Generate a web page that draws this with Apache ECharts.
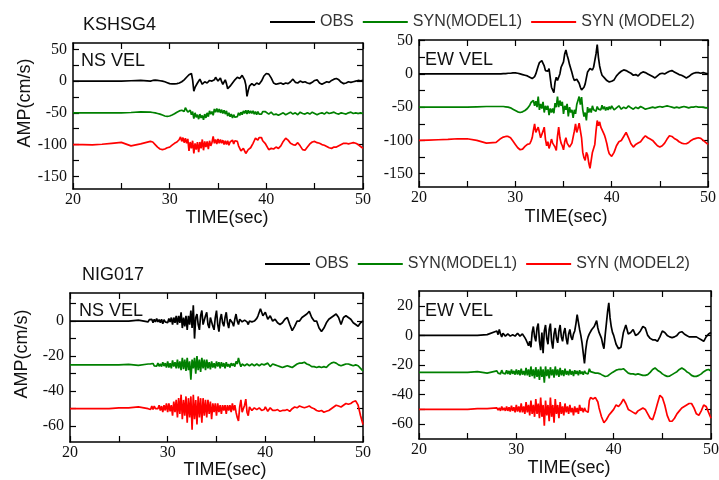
<!DOCTYPE html>
<html>
<head>
<meta charset="utf-8">
<script src="https://cdn.jsdelivr.net/npm/echarts@6/dist/echarts.min.js"></script>
<style>
  html, body { margin: 0; padding: 0; background: #fff; }
  #chart { width: 719px; height: 480px; }
</style>
</head>
<body>
<div id="chart"></div>
<script>
// sample times: 1 s in the quiet part, 0.125 s through the strong shaking, 0.25 s in the coda
const TIMES = [];
for (let t = 20; t < 28; t++) TIMES.push(t);
for (let i = 0; i < 96; i++) TIMES.push(28 + i * 0.125);
for (let i = 0; i <= 40; i++) TIMES.push(40 + i * 0.25);

const NAMES = ['OBS', 'SYN(MODEL1)', 'SYN (MODEL2)'];
const COLORS = ['#000000', '#008000', '#ff0000'];
const STATIONS = ['KSHSG4', 'NIG017'];
const COMPONENTS = ['NS VEL', 'EW VEL'];

// trace offsets (cm/s) used to stack the three traces in each panel
const OFFSETS_KSHSG4 = [0, -50, -100];
const OFFSETS_NIG017 = [0, -25, -50];

// KSHSG4 NS velocity
const KSHSG4_NS_OBS = [
  0, 0, 0, 0, 0, 0, 0.5, 1,
  // 28 - 40 s
  0, 0.5, 1, 1.5, 1.5, 1, 1, 0.5,
  0.5, 0, 0, -0.5, -1, -2, -2.5, -3,
  -4, -4, -4.5, -5, -4.5, -4, -4, -3.5,
  -3, -2, -1, 0, 2, 4, 6, 8,
  10, 13, 12, 2, -16, -10, -8, -3,
  -2, 3, 0, -5, -6, -1, 2, -3,
  -4, 1, 4, 0, -3, 2, 6, 3,
  0, 3, 5, -1, -5, -2, 2, -4,
  -12, -9, -8, -5, -3, 0, 2, 4,
  6, 3, 4, 7, 9, 6, 2, -6,
  -24, -15, -8, -6, -4, -5, -7, -4,
  -3, -4, -5, -2, 0, 4, 8, 10,
  // 40 - 50 s
  12, 11, 5, -3, -5, -4, -3, -5,
  -3, -4, -1, 3, -2, -3, 0, -2,
  -1, -3, -4, -2, 1, 2, -3, -5,
  -3, -1, -2, 1, 3, 4, 2, -2,
  -4, -3, -1, -2, -1, 0, 1, 0.5,
  1
];
const KSHSG4_NS_M1 = [
  0, 0, 0, 0, 0, 0, 0.5, 1.5,
  1, 1, 0.5, 0, 0, -0.5, -1, -1.5,
  -2, -3, -3.5, -4.5, -5, -5.5, -5.5, -5.5,
  -5, -4.5, -3.5, -2.5, -1.5, 0, 1, 2,
  3, 6, 4, 7, 2, 8, 5, 1,
  -2, 4, -3, 2, -9, 0, -7, -3,
  -10, -2, -8, -4, -11, -2, -8, 0,
  -6, 3, -2, 2, -4, 6, 1, 7,
  1, 6, 0, 5, -1, 4, -2, 3,
  -5, 0, -6, -2, -8, -3, -7, -4,
  -6, 0, -4, 1, -3, 3, -1, 4,
  -2, 4, -1, 3, -1, 3, -2, 2,
  -3, 2, -2, 1, -2, 2, -1, 2,
  0, -2, 1, -3, -2, -4, -2, 0,
  -3, -1, 1, -2, 0, -3, 1, -1,
  -2, 0, -2, 1, -1, -3, -1, 0,
  -2, 1, -1, 0, 1, -1, -2, 0,
  -1, -2, 0, 1, -1, 0, -1, 0,
  -1
];
const KSHSG4_NS_M2 = [
  0, 0, -0.5, 0.5, 2, 3.5, -2, 1,
  5, 5, 4, 2, 0, -2, -4, -6,
  -7, -8, -8, -8, -7, -6, -5, -4.5,
  -4, -2.5, -1, 0.5, 2, 3, 4, 6,
  8, 12, 5, 11, 3, 10, 2, 9,
  -10, 4, -6, 6, -14, 2, -8, 4,
  -12, 4, -6, 8, -9, 5, -4, 5,
  -7, 6, -2, 3, 13, 2, 8, 1,
  9, 2, 8, 2, 7, 0, 6, 0,
  6, -1, 4, 2, 7, 1, 6, 3,
  5, -2, -5, -10, -12, -6, -9, -14,
  -16, -8, -10, -5, -3, 2, 6, 10,
  13, 7, 11, 9, 11, 6, 5, 2,
  0, -8, -6, -7, -4, -6, -2, 5,
  10, 7, 2, 0, -1, 3, -2, -8,
  -9, -4, 1, 4, 5, 3, 2, 0,
  -1, -3, -5, -6, -4, -4, -2, 0,
  2, 2, 1, 2, 3, 2, 0, -3,
  -6
];

// KSHSG4 EW velocity
const KSHSG4_EW_OBS = [
  0, 0, 0, 0, 0, 0, 0, 0,
  0, 0, 0, 0, 0, 0.5, 0.5, 0.5,
  0.5, 1, 1, 1, 1, 1.5, 1.5, 1.5,
  1.5, 1.5, 1, 0.5, 0, -0.5, -1, -1.5,
  -2, -2.5, -3, -4, -5, -6, -7, -6,
  -4, 0, 6, 12, 17, 19, 20, 16,
  12, 5, 2, 4, 8, -6, -20, -24,
  -28, -12, -5, -10, -12, 0, 10, 14,
  18, 30, 36, 28, 22, 14, 8, 2,
  -5, -10, -12, -8, -8, -14, -20, -24,
  -23, -20, -15, -6, 3, 6, 8, 7,
  6, 10, 12, 30, 44, 25, 12, 4,
  -2, -4, -6, -8, -10, -11, -12, -12,
  -11, -9, -3, 1, 4, 6, 5, 3,
  1, -2, -1, -3, 1, 3, 2, 0,
  -2, -4, -6, -3, 0, 1, 0, 2,
  4, 5, 3, 1, -1, -2, -4, -6,
  -4, -1, 1, 2, 2, 1, 2, 1,
  0
];
const KSHSG4_EW_M1 = [
  0, 0, 0, 0, 0, 0, 0.5, 1,
  1, 1, 1, 1, 1, 1, 1, 1,
  0.5, 0.5, 0, -0.5, -1, -2, -3, -4,
  -5, -6, -7, -7.5, -8, -7.5, -7, -6,
  -5, -3, -2, 1, 3, 7, 4, 10,
  2, 9, 0, 16, -4, 5, -2, 8,
  -8, 2, -4, 2, -12, -2, -8, -2,
  -9, 6, 0, 16, 0, 10, 2, 8,
  -10, 2, -4, 5, -14, 0, -8, -4,
  -16, -4, -10, 4, 2, 16, 4, 15,
  -4, -14, -8, -20, 0, -8, -2, -8,
  2, -4, -1, -6, 1, -3, 0, -4,
  3, -3, 1, -5, 0, -4, 1, -3,
  2, -4, -1, 2, -3, 0, -2, 2,
  -1, -3, 0, -2, 1, -1, -3, -2,
  -1, 0, -1, 0, 1, 0, 1, 2,
  1, 0, -1, 0, -1, 0, 1, 0,
  -1, 0, 0, 1, 0, 0, 0, -1,
  -1
];
const KSHSG4_EW_M2 = [
  0, 0.5, 1, 1.5, 2.5, 2.5, 0, -4,
  -3, -1.5, 0, 1.5, 3, 4, 5, 5.5,
  6, 6, 6, 5, 4, 1.5, -1, -3.5,
  -6, -9, -11, -13, -14, -14, -13, -11,
  -9, -7, -6, -6, -5, -1, 4, 15,
  25, 12, 10, 20, 18, 4, 2, 14,
  20, 2, -8, -2, -12, -6, 2, -4,
  -6, -10, -15, 6, 20, 4, -4, -8,
  -14, -2, 4, -4, -5, -10, -10, -4,
  -2, 14, 25, 12, 18, 26, 24, 4,
  -18, -26, -30, -18, -22, -34, -42, -30,
  -18, -12, -6, 14, 30, 22, 28, 20,
  18, 12, 8, 2, -5, -14, -20, -23,
  -24, -18, -8, -2, 0, 6, 12, 4,
  -5, -10, -6, -4, -2, 3, 7, 4,
  2, 0, -4, -8, -10, -8, -4, 2,
  7, 6, 3, 1, -2, -4, -5, -5,
  -3, 0, 2, 3, 4, 3, 0, -3,
  -6
];

// NIG017 NS velocity
const NIG017_NS_OBS = [
  0, 0, 0, 0, 0, 0, 0, 0.5,
  -0.5, 0.8, -0.3, 1, -1, 1, -0.5, 1.5,
  -0.5, 0.8, -1, 1, -1.5, 0.8, -0.5, 0.5,
  -1, 1.5, -0.5, 2, -2, 2, -1, 3,
  -2, 3, -1, 5, -4, 2, -3, 3,
  -5, 3, -2, 6, -4, 9, -10, 2,
  4, -2, -5, 3, 6, -2, -3, 3,
  5, -2, -4, 2, 3, -3, -5, 2,
  6, -2, -6, 1, 4, -1, -3, 2,
  5, -1, -4, 1, 2, -1, -3, 1,
  4, 0, -2, 1, 2, -0.5, -1, 0.5,
  1, -0.5, -2, 0, 1, -0.5, -1, 0,
  0, 1.5, 3, 5, 7, 5, 3, 4,
  5, 1, 3, 0, 1, -1, -2, -1,
  1, 2, -2, -5.5, -3, 0, 0, 2,
  3, 4, 5.5, 2, 0, 0, -4, -6,
  -4, -1, 1, 2, 3, 4, 2, -2,
  2, 3, 2, 1, -1, -2, -3, -1,
  0
];
const NIG017_NS_M1 = [
  0, 0, 0, 0, 0, 0, 0.3, -0.3,
  0.5, -0.3, 0.6, -0.5, 0.8, -0.6, 0.4, -0.8,
  1, -0.8, 0.6, -1, 1.5, -0.7, 1, -1.5,
  2, -1.5, 1, -2, 2.5, -1, 1.5, -2,
  3, -2, 2, -3, 4, -2.5, 3, -3.5,
  4, -3, 2, -8.5, 3, -2, 4, -5,
  5, -3, 3, -4, 4, -2, 3, -3,
  3, -2, 1.5, -2.5, 2, -1.5, 1, -2,
  2, -1, 1.5, -2, 1.5, -1, 1, -2,
  1.5, -1, 0.5, -1.5, 1, -0.5, 0.8, -1,
  2, 0.5, 4, 1, -1, 0.5, 1, -0.5,
  -1.5, 0.5, 1, -0.5, -1, 0.5, 1.5, -0.5,
  -1, 0.5, 0.5, -0.5, -1, 0.5, 1, 0,
  -0.5, 1, -1, 0.5, 0, -0.5, -1, -1.5,
  -1, -0.5, -1, -1.5, -0.5, 0.5, 1, 1,
  1.5, 0.5, 0, -1, -1, -1.5, -1, -1.5,
  -1, -1.5, 0, 1, 1.5, 1, 0, -0.5,
  0, 0.5, 0.5, 0, -0.5, 0, -0.5, -2,
  -3.5
];
const NIG017_NS_M2 = [
  0, 0, 0, 0, 0, 0.5, 0.5, 1,
  0, 1, -0.5, 1.5, -0.5, 1.5, 0, 1,
  0, 2, -1, 1.5, -2, 2, -1, 3,
  -2, 3, -1.5, 2, -4, 4, -2, 5,
  -5, 6, -3, 8, -6, 5, -4, 7,
  -8, 6, -5, 7, -12, 8, -6, 5,
  -9, 7, -5, 6, -8, 6, -4, 5,
  -5, 5, -3, 4, -6, 3, -2, 3,
  -4, 3, -2, 2, -3, 2, -1, 2,
  -3, 2, -1, 2, -2, 3, -1, 2,
  -2, -5, -7, 1, 5, -2, -3, 2,
  5.5, -2, -4, 1, 2, -1, -2, 0.5,
  1.5, -0.5, -1, 0.5, 1, -1, -2, -0.5,
  1, -1.5, 0.5, -1, -1, -0.5, -1.5, -1,
  -1, -0.5, -1.5, 0, 1, 0.5, 1.5, 1,
  0.5, 1, 1.5, 0.5, 0, -1, -1.5, -1,
  -2, -1.5, -1, 0, 1, 2, 1.5, 1,
  2, 3, 2.5, 3, 4, 4.5, 2, -4,
  -9
];

// NIG017 EW velocity
const NIG017_EW_OBS = [
  0, 0, 0, 0, 0, 0, 0, 0.5,
  3, 0.5, 4, 1, -1, 1.5, 2, -0.5,
  -1, 1, 1.5, -0.5, -1, 0.5, 1, -0.5,
  0, 1.5, 2, -0.5, -1, 1, 1, -1.5,
  -3, -5, -7, -4, -8, 2, 6, -1,
  -4, 5, 8, -4, -10, 2, -12, 3,
  7, -2, -6, 4, 8, -4, -9, 1,
  5, -2, -5, 3, 7, -1, -4, 2,
  5, -2, -6, 1, 4, -1, -3, 1,
  3, 8, 14, 9, 4, 0, -5, -12,
  -19, -10, -4, -1, 1, 2, 4, 5,
  6, 8, 10, 5, 2, 0, -2, -6,
  -9, 0, 8, 16, 22, 12, 6, 2,
  0, -6, -9, -8, 2, 7, 1, 2,
  4, 0, 1, 3, 6, 5, 0, -2,
  -3, -3, -4, -1, 3, 2, 0, -1,
  -1.5, -1, 0, 2, 2.5, 1, 0, -1,
  -1, -1, -1, -2, -3, -4, -1, 1,
  2
];
const NIG017_EW_M1 = [
  0, 0, 0, 0, 0, 0, 0.5, -0.5,
  1, -0.5, 0.8, -1, 1.5, -0.5, 0.5, -1,
  1.5, -1, 1, -1.5, 2, -1, 1, -1.5,
  2, -1.5, 1.5, -2, 2.5, -1.5, 1, -2,
  3, -2, 2, -3, 4, -2.5, 2, -4,
  3.5, -3, 2, -5, 4, -3, 2, -7,
  4, -2.5, 2, -4, 3.5, -2, 2, -3.5,
  4, -2, 2, -3, 3, -2, 1.5, -2.5,
  2.5, -1.5, 1, -2, 2, -1.5, 1, -2.5,
  1.5, -1, 1, -2, 1.5, -1, 0.5, -1.5,
  1, -0.5, 0.5, -1, 2.5, 0.5, 1, 0,
  1, -0.5, 0.5, -0.5, 0.5, -1, -1.5, -2,
  -2.5, -2.8, -2.7, -2.4, -2, -1.2, -0.5, 0,
  0.5, 1.5, 2, 2, 2.5, 1, -0.5, -1,
  -1, -1.5, -1, -1.5, -2, -2, -1.5, 0,
  2, 3, 1.5, 0.5, -1, -2, -2.7, -2.5,
  -1.5, -0.5, 0.5, 2, 3, 2, 0.5, -0.5,
  -2, -2.7, -2.7, -2, -1, 0.5, 1.5, 2,
  1
];
const NIG017_EW_M2 = [
  0, 0, 0, 0, 0, 0, 0.5, 0.5,
  1, -0.5, 1, -1, 2, -0.5, 1, -1,
  2, -1, 1.5, -1.5, 2.5, -1, 1.5, -2,
  3, -1.5, 2, -2, 4, -2, 2, -3,
  5, -2, 3, -4, 6, -3, 3, -5,
  7, -3, 4, -6, 8, -5, 3, -11,
  6, -4, 3, -8, 8, -5, 3, -9,
  7, -3, 3, -6, 5, -3, 2, -4,
  4, -2, 2, -3, 3, -2, 1, -4,
  2, -2, 1, -3, 3, -1, 1, -2,
  1, -1, 0, -2, 6, 8, 8, 7,
  7, 8, 9, 5, 1, -2, -5, -7,
  -9, -8, -7, -6, -4, -3, -2, -1,
  0, 3, 2, 4, 7, 4, 0, -1,
  -2, -3, -1, 0, 1, 0, -3, -6,
  -7, -2, 4, 9.5, 8, 3, -4, -8,
  -8, -6, -3, -1, 1, 2, 3, 4,
  4, 1, -3, -4, -1, 3, 2, -2,
  -6
];

// tick marks and tick labels
const X_LABELS = [20, 30, 40, 50];
const Y_TICKS_KSHSG4 = [-150, -125, -100, -75, -50, -25, 0, 25, 50];
const Y_LABELS_KSHSG4 = [-150, -100, -50, 0, 50];
const Y_TICKS_NIG017_NS = [-60, -50, -40, -30, -20, -10, 0, 10];
const Y_LABELS_NIG017_NS = [-60, -40, -20, 0];
const Y_TICKS_NIG017_EW = [-60, -50, -40, -30, -20, -10, 0, 10, 20];
const Y_LABELS_NIG017_EW = [-60, -40, -20, 0, 20];

const panels = [
  { grid: { left: 73, top: 43, width: 290, height: 146 }, min: -170, max: 60,
    ticks: Y_TICKS_KSHSG4, labels: Y_LABELS_KSHSG4,
    traces: [KSHSG4_NS_OBS, KSHSG4_NS_M1, KSHSG4_NS_M2], offsets: OFFSETS_KSHSG4 },
  { grid: { left: 419, top: 40, width: 289, height: 147 }, min: -170, max: 51,
    ticks: Y_TICKS_KSHSG4, labels: Y_LABELS_KSHSG4,
    traces: [KSHSG4_EW_OBS, KSHSG4_EW_M1, KSHSG4_EW_M2], offsets: OFFSETS_KSHSG4 },
  { grid: { left: 70, top: 293, width: 293, height: 149 }, min: -69, max: 16,
    ticks: Y_TICKS_NIG017_NS, labels: Y_LABELS_NIG017_NS,
    traces: [NIG017_NS_OBS, NIG017_NS_M1, NIG017_NS_M2], offsets: OFFSETS_NIG017 },
  { grid: { left: 419, top: 291, width: 292, height: 148 }, min: -70, max: 30,
    ticks: Y_TICKS_NIG017_EW, labels: Y_LABELS_NIG017_EW,
    traces: [NIG017_EW_OBS, NIG017_EW_M1, NIG017_EW_M2], offsets: OFFSETS_NIG017 }
];

const chart = echarts.init(document.getElementById('chart'));

const frame = { show: true, onZero: false, lineStyle: { color: '#000', width: 1.5 } };
const tickStyle = { color: '#000', width: 1.2 };

const grids = [], xAxes = [], yAxes = [], series = [];
panels.forEach((p, i) => {
  grids.push(p.grid);
  ['bottom', 'top'].forEach(pos => {
    xAxes.push({
      gridIndex: i, type: 'value', position: pos, min: 20, max: 50, interval: 5,
      axisLine: frame,
      axisTick: { inside: true, length: 6, lineStyle: tickStyle },
      axisLabel: { show: false },
      splitLine: { show: false }
    });
  });
  ['left', 'right'].forEach(pos => {
    yAxes.push({
      gridIndex: i, type: 'value', position: pos, min: p.min, max: p.max,
      axisLine: frame,
      axisTick: { inside: true, length: 6, customValues: p.ticks, lineStyle: tickStyle },
      axisLabel: { show: false },
      splitLine: { show: false }
    });
  });
  p.traces.forEach((vals, k) => {
    series.push({
      type: 'line', name: NAMES[k], xAxisIndex: 2 * i, yAxisIndex: 2 * i,
      data: TIMES.map((t, n) => [t, p.offsets[k] + vals[n]]),
      symbol: 'none', showSymbol: false,
      lineStyle: { color: COLORS[k], width: 1.7 },
      itemStyle: { color: COLORS[k] }
    });
  });
});

const legendBase = {
  data: NAMES, orient: 'horizontal', padding: 0, itemGap: 9,
  icon: 'rect', itemWidth: 45, itemHeight: 2, selectedMode: false,
  textStyle: { color: '#333', fontFamily: 'Liberation Sans', fontSize: 16 }
};

const txt = (text, x, y, family, size, align, vAlign, extra) => Object.assign({
  type: 'text', x: x, y: y, z: 100,
  style: { text: text, fontFamily: family, fontSize: size, fill: '#111',
    textAlign: align || 'left', verticalAlign: vAlign || 'middle',
    textVerticalAlign: vAlign || 'middle' }
}, extra || {});
const SANS = 'Liberation Sans';
const SERIF = 'Liberation Serif';

chart.setOption({
  animation: false,
  backgroundColor: '#fff',
  grid: grids,
  xAxis: xAxes,
  yAxis: yAxes,
  series: series,
  legend: [
    Object.assign({ left: 270, top: 14 }, legendBase),
    Object.assign({ left: 265, top: 256 }, legendBase)
  ]
});

const texts = [
  txt(STATIONS[0], 83, 25, SANS, 18),
  txt(STATIONS[1], 82, 275, SANS, 18),
  txt(COMPONENTS[0], 81, 61, SANS, 18),
  txt(COMPONENTS[1], 425, 60, SANS, 18),
  txt(COMPONENTS[0], 79, 311, SANS, 18),
  txt(COMPONENTS[1], 425, 311, SANS, 18),
  txt('AMP(cm/s)', 25, 103, SANS, 18, 'center', 'middle', { rotation: Math.PI / 2 }),
  txt('AMP(cm/s)', 22, 354, SANS, 18, 'center', 'middle', { rotation: Math.PI / 2 }),
  txt('TIME(sec)', 227, 218, SANS, 18, 'center'),
  txt('TIME(sec)', 566, 217, SANS, 18, 'center'),
  txt('TIME(sec)', 225, 470, SANS, 18, 'center'),
  txt('TIME(sec)', 569, 468, SANS, 18, 'center')
];
// tick labels placed through each panel's own axes
panels.forEach((p, i) => {
  const finder = { xAxisIndex: 2 * i, yAxisIndex: 2 * i };
  X_LABELS.forEach(v => {
    const pt = chart.convertToPixel(finder, [v, p.min]);
    texts.push(txt(String(v), pt[0], pt[1] + 3, SERIF, 16, 'center', 'top'));
  });
  p.labels.forEach(v => {
    const pt = chart.convertToPixel(finder, [20, v]);
    texts.push(txt(String(v), pt[0] - 6, pt[1], SERIF, 16, 'right', 'middle'));
  });
});
chart.setOption({ graphic: texts });
</script>
</body>
</html>
